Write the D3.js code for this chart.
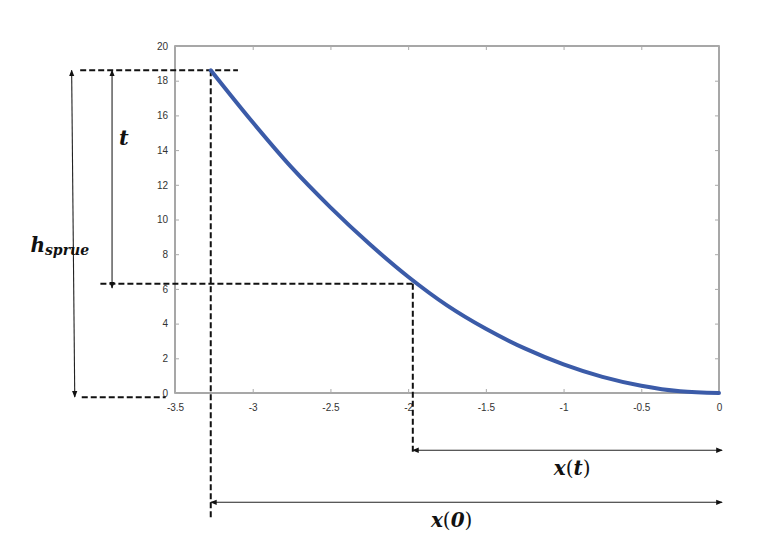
<!DOCTYPE html>
<html>
<head>
<meta charset="utf-8">
<script src="https://cdn.jsdelivr.net/npm/d3@7"></script>
<style>
  body { margin: 0; background: #fff; }
  svg { display: block; }
</style>
</head>
<body>
<div id="chart"></div>
<script>
// curve (x, h)
const xs = [-3.27, -3.0, -2.75, -2.5, -2.25, -2.0, -1.75, -1.5, -1.25, -1.0, -0.75, -0.5, -0.25, 0];
const hs = [18.6, 15.6, 13.0, 10.7, 8.6, 6.7, 5.05, 3.7, 2.57, 1.65, 0.93, 0.42, 0.1, 0];

const xTicks = [-3.5, -3, -2.5, -2, -1.5, -1, -0.5, 0];
const yTicks = [0, 2, 4, 6, 8, 10, 12, 14, 16, 18, 20];

// marked points
const x0 = -3.27, h0 = 18.6;
const xt = -1.97, ht = 6.3;

const width = 771, height = 538;
const margin = { top: 46, right: 52, bottom: 145, left: 175 };

const x = d3.scaleLinear().domain([-3.5, 0]).range([margin.left, width - margin.right]);
const y = d3.scaleLinear().domain([0, 20]).range([height - margin.bottom, margin.top]);

const svg = d3.select("#chart").append("svg").attr("width", width).attr("height", height);

const defs = svg.append("defs");
["end", "start"].forEach((k) => {
  defs.append("marker")
    .attr("id", "arr-" + k)
    .attr("viewBox", "0 0 10 10")
    .attr("refX", k === "end" ? 9 : 1)
    .attr("refY", 5)
    .attr("markerWidth", 6)
    .attr("markerHeight", 6)
    .attr("orient", "auto")
    .append("path")
    .attr("d", k === "end" ? "M0,1L10,5L0,9Z" : "M10,1L0,5L10,9Z")
    .attr("fill", "#111");
});

// axes box, MATLAB style with inward ticks
const axisColor = "#8a8a8a";
const tickLen = 4;
const fmt = (d) => String(d); // plain hyphen minus like the original
const gAx = svg.append("g").style("font", "11.5px 'Liberation Sans', Arial, sans-serif");

gAx.append("rect")
  .attr("x", x(-3.5)).attr("y", y(20))
  .attr("width", x(0) - x(-3.5)).attr("height", y(0) - y(20))
  .attr("fill", "none").attr("stroke", axisColor).attr("stroke-width", 1.5);

const xb = gAx.append("g").attr("transform", `translate(0,${y(0)})`)
  .call(d3.axisBottom(x).tickValues(xTicks).tickSizeInner(-tickLen).tickSizeOuter(0).tickPadding(11).tickFormat(fmt));
const xt2 = gAx.append("g").attr("transform", `translate(0,${y(20)})`)
  .call(d3.axisTop(x).tickValues(xTicks).tickSizeInner(-tickLen).tickSizeOuter(0).tickFormat(""));
const yl = gAx.append("g").attr("transform", `translate(${x(-3.5)},0)`)
  .call(d3.axisLeft(y).tickValues(yTicks).tickSizeInner(-tickLen).tickSizeOuter(0).tickPadding(7).tickFormat(fmt));
const yr = gAx.append("g").attr("transform", `translate(${x(0)},0)`)
  .call(d3.axisRight(y).tickValues(yTicks).tickSizeInner(-tickLen).tickSizeOuter(0).tickFormat(""));

[xb, xt2, yl, yr].forEach((g) => {
  g.select(".domain").remove();
  g.selectAll(".tick line").attr("stroke", "#aaa");
  g.selectAll("text").attr("fill", "#333");
});

// dashed guides (data units, some fall outside the axes)
const dashed = [
  { x1: -4.11, y1: h0, x2: -3.095, y2: h0 },
  { x1: -3.98, y1: ht, x2: xt, y2: ht },
  { x1: -4.1, y1: -0.25, x2: -3.56, y2: -0.25 },
  { x1: x0, y1: h0, x2: x0, y2: -7.2 },
  { x1: xt, y1: ht, x2: xt, y2: -3.4 }
];

svg.append("g")
  .selectAll("line")
  .data(dashed)
  .join("line")
  .attr("x1", (d) => x(d.x1)).attr("y1", (d) => y(d.y1))
  .attr("x2", (d) => x(d.x2)).attr("y2", (d) => y(d.y2))
  .attr("stroke", "#111")
  .attr("stroke-width", 2)
  .attr("stroke-dasharray", "6,3");

// curve
const line = d3.line().x((d, i) => x(xs[i])).y((d) => y(d)).curve(d3.curveMonotoneX);
svg.append("path")
  .datum(hs)
  .attr("d", line)
  .attr("fill", "none")
  .attr("stroke", "#3b5ba8")
  .attr("stroke-width", 4)
  .attr("stroke-linecap", "round");

// dimension arrows
const arrows = [
  { x1: -4.165, y1: h0, x2: -4.145, y2: -0.23 },
  { x1: -3.905, y1: h0, x2: -3.905, y2: ht - 0.25 },
  { x1: xt, y1: -3.3, x2: 0.02, y2: -3.3 },
  { x1: x0, y1: -6.3, x2: 0.02, y2: -6.3 }
];

svg.append("g")
  .selectAll("line")
  .data(arrows)
  .join("line")
  .attr("x1", (d) => x(d.x1)).attr("y1", (d) => y(d.y1))
  .attr("x2", (d) => x(d.x2)).attr("y2", (d) => y(d.y2))
  .attr("stroke", "#222")
  .attr("stroke-width", 1.1)
  .attr("marker-start", "url(#arr-start)")
  .attr("marker-end", "url(#arr-end)");

// math labels
const mathFont = "'DejaVu Serif', 'Liberation Serif', serif";
const lab = svg.append("g")
  .attr("font-family", mathFont)
  .attr("font-weight", "bold")
  .attr("fill", "#111");

lab.append("text")
  .attr("x", x(-3.86)).attr("y", y(14.3))
  .attr("font-size", 21)
  .attr("font-style", "italic")
  .text("t");

const hl = lab.append("text")
  .attr("x", x(-4.43)).attr("y", y(8.1))
  .attr("font-size", 20)
  .attr("font-style", "italic");
hl.append("tspan").text("h");
hl.append("tspan").attr("font-size", 14).attr("dy", 3).text("sprue");

function fnLabel(xv, yv, arg) {
  const t = lab.append("text")
    .attr("x", x(xv)).attr("y", y(yv))
    .attr("text-anchor", "middle")
    .attr("font-size", 20);
  t.append("tspan").attr("font-style", "italic").text("x");
  t.append("tspan").attr("font-weight", "normal").text("(");
  t.append("tspan").attr("font-style", "italic").text(arg);
  t.append("tspan").attr("font-weight", "normal").text(")");
}
fnLabel(-0.945, -4.75, "t");
fnLabel(-1.72, -7.75, "0");
</script>
</body>
</html>
